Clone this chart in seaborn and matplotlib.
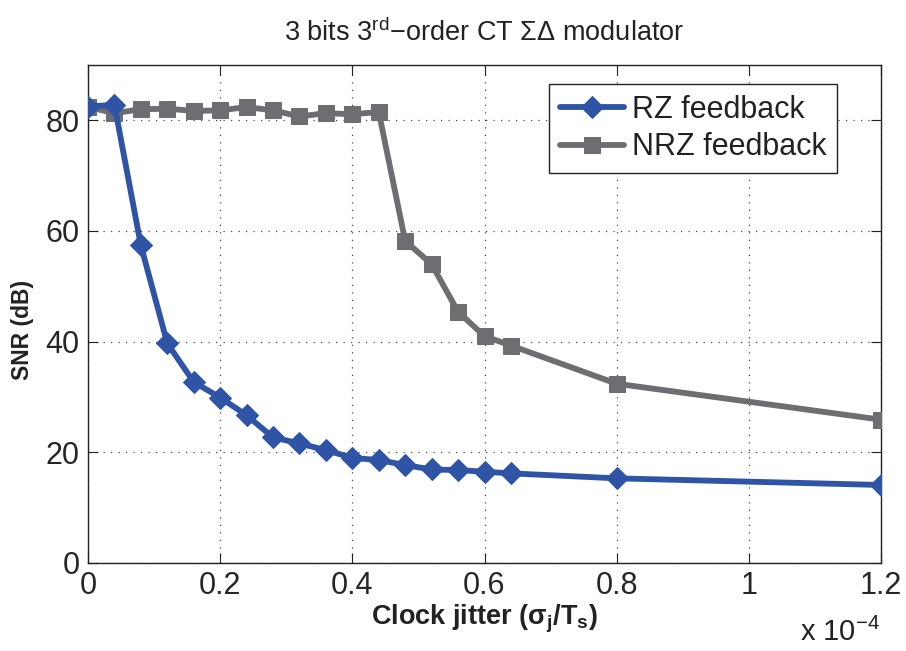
import matplotlib
matplotlib.use("Agg")
import matplotlib.pyplot as plt
import seaborn as sns
import pandas as pd
from matplotlib import font_manager as fm

# ---- data (clock jitter in units of 1e-4) ----
jitter = [0, 0.04, 0.08, 0.12, 0.16, 0.20, 0.24, 0.28, 0.32, 0.36, 0.40,
          0.44, 0.48, 0.52, 0.56, 0.60, 0.64, 0.80, 1.20]
snr_rz = [82.5, 82.8, 57.4, 39.7, 32.7, 29.9, 26.7, 22.7, 21.6, 20.4, 19.0,
          18.6, 17.7, 16.9, 16.8, 16.5, 16.2, 15.3, 14.1]
snr_nrz = [82.4, 81.3, 82.0, 82.1, 81.7, 81.8, 82.4, 81.8, 80.7, 81.3, 81.1,
           81.5, 58.2, 54.0, 45.4, 41.0, 39.3, 32.4, 25.9]
series_names = ["RZ feedback", "NRZ feedback"]
xticks = [0, 0.2, 0.4, 0.6, 0.8, 1.0, 1.2]
xticklabels = ["0", "0.2", "0.4", "0.6", "0.8", "1", "1.2"]
yticks = [0, 20, 40, 60, 80]

sns.set_theme(style="white")
names = {f.name for f in fm.fontManager.ttflist}
fam = "Liberation Sans" if "Liberation Sans" in names else "DejaVu Sans"
plt.rcParams["font.family"] = [fam, "DejaVu Sans"]
plt.rcParams["mathtext.fontset"] = "custom"
plt.rcParams["mathtext.rm"] = fam
plt.rcParams["mathtext.it"] = fam + ":italic"
plt.rcParams["mathtext.bf"] = fam + ":bold"

fig = plt.figure(figsize=(9.06, 6.51), dpi=100)
ax = fig.add_axes([88 / 906, 1 - 563 / 651, (881 - 88) / 906, (563 - 65) / 651])

df_rz = pd.DataFrame({"x": jitter, "y": snr_rz})
df_nrz = pd.DataFrame({"x": jitter, "y": snr_nrz})

blue = "#2F54A5"
gray = "#6D6E71"
sns.lineplot(data=df_rz, x="x", y="y", ax=ax, color=blue, lw=4.2, marker="D",
             markersize=11.5, markeredgecolor=blue, label=series_names[0], zorder=4)
sns.lineplot(data=df_nrz, x="x", y="y", ax=ax, color=gray, lw=4.2, marker="s",
             markersize=12, markeredgecolor=gray, label=series_names[1], zorder=3)

ax.set_xlim(0, 1.2)
ax.set_ylim(0, 90)
ax.set_xticks(xticks)
ax.set_xticklabels(xticklabels)
ax.set_yticks(yticks)
ax.tick_params(direction="in", length=7, width=0.8, labelsize=22, color="#222222",
               top=True, right=True, bottom=True, left=True, pad=6)
for s in ax.spines.values():
    s.set_visible(True)
    s.set_color("#222222")
    s.set_linewidth(1.0)
ax.grid(True, linestyle=(0, (1, 5)), color="#444444", linewidth=0.9)
ax.set_axisbelow(True)

ax.set_title("3 bits 3$^{\\rm rd}$\u2212order CT \u03a3\u0394 modulator", fontsize=19.5,
             pad=17, color="#222222")
ax.set_xlabel("Clock jitter (\u03c3$_{\\bf j}$/T$_{\\bf s}$)", fontsize=19.5,
              fontweight="bold", color="#222222", labelpad=1)
ax.set_ylabel("SNR (dB)", fontsize=16.5, fontweight="bold", color="#222222")
ax.yaxis.set_label_coords(-0.068, 0.468)
fig.text(880 / 906, 1 - 632 / 651, "x 10$^{-4}$", ha="right", va="center",
         fontsize=21, color="#222222")

leg = ax.legend(loc="upper right", bbox_to_anchor=((837 - 88) / 793, (563 - 84) / 498),
                fontsize=22, frameon=True, fancybox=False, framealpha=1,
                edgecolor="#222222", handlelength=2.1, handletextpad=0.25,
                borderpad=0.35, labelspacing=0.25, borderaxespad=0)
leg.get_frame().set_linewidth(1.0)
for t in leg.get_texts():
    t.set_color("#222222")

fig.savefig("out.png", dpi=100, facecolor="white")
